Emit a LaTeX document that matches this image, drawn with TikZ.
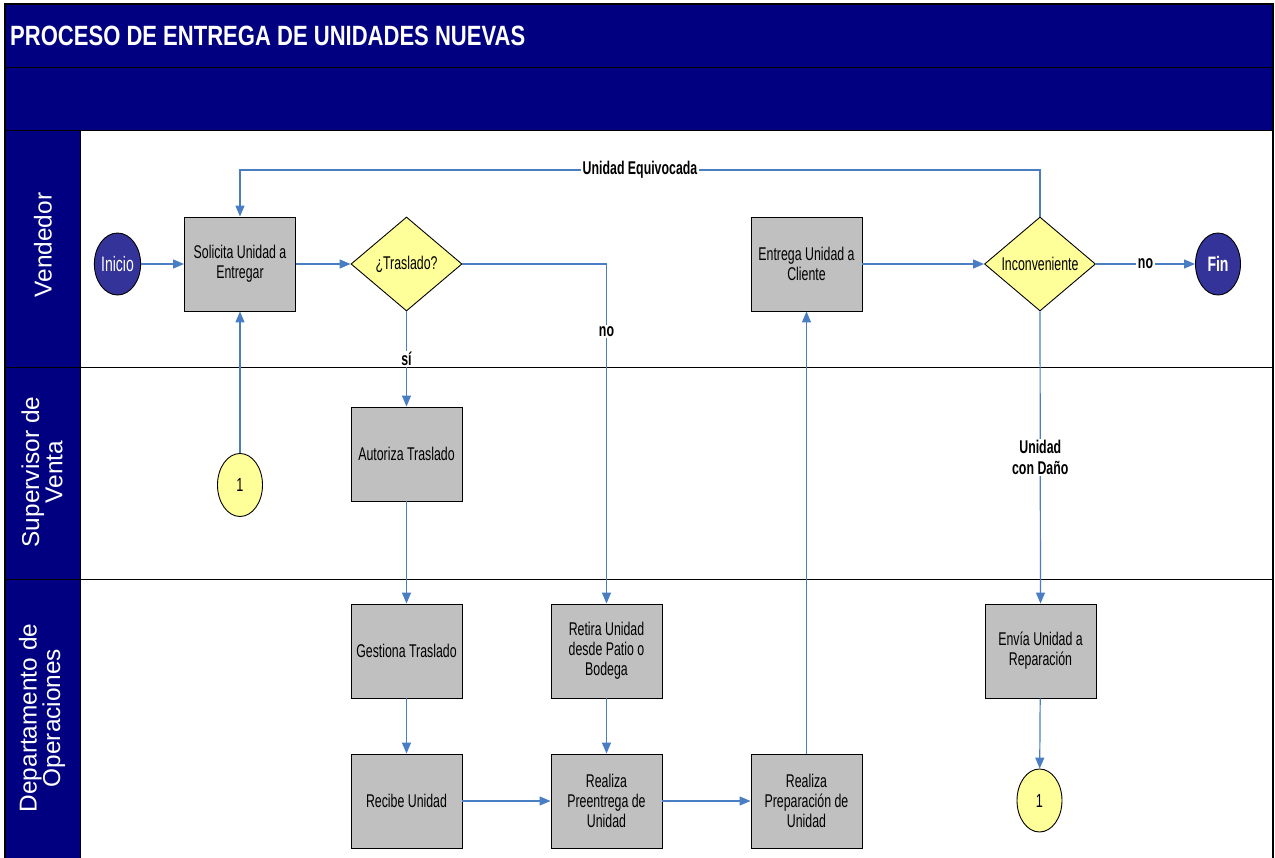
\documentclass[tikz,border=0pt]{standalone}
\usepackage{fontspec}
\setmainfont{Liberation Sans}
\newfontfamily\narrowfont{Liberation Sans}[FakeStretch=0.67]
\newfontfamily\titlefont{Liberation Sans}[FakeStretch=0.79]
\newfontfamily\lanefont{Liberation Sans}
\usetikzlibrary{shapes.geometric,arrows.meta}

\definecolor{navy}{HTML}{000080}
\definecolor{termfill}{HTML}{333399}
\definecolor{boxgray}{HTML}{C0C0C0}
\definecolor{decfill}{HTML}{FFFF99}
\definecolor{flow}{HTML}{4A7EC4}

\tikzset{
  process/.style={draw=black, fill=boxgray, line width=0.9bp, minimum width=111bp,
    minimum height=94bp, inner sep=0pt, align=center,
    font=\narrowfont\fontsize{18.5}{20}\selectfont},
  decision/.style={draw=black, fill=decfill, diamond, line width=0.9bp, aspect=1.18,
    minimum width=111bp, minimum height=94bp, inner sep=0pt,
    font=\narrowfont\fontsize{18.5}{20}\selectfont},
  terminal/.style={draw=black, fill=termfill, ellipse, line width=0.9bp,
    minimum width=45bp, minimum height=62bp, inner sep=0pt, text=white,
    font=\narrowfont\fontsize{21}{22}\selectfont},
  connector/.style={draw=black, fill=decfill, ellipse, line width=0.9bp,
    minimum width=45bp, minimum height=63bp, inner sep=0pt,
    font=\narrowfont\fontsize{19}{20}\selectfont},
  flowline/.style={draw=flow, line width=1.2bp,
    -{Triangle[length=11bp,width=9bp]}},
  flowlabel/.style={fill=white, inner sep=1.5bp, align=center, text=black,
    font=\narrowfont\bfseries\fontsize{18.5}{21}\selectfont},
  lanelabel/.style={rotate=90, text=white, align=center,
    font=\lanefont\fontsize{24.5}{23.5}\selectfont},
}

\begin{document}
\begin{tikzpicture}[x=1bp,y=-1bp]
\useasboundingbox (0,0) rectangle (1275,858);

% page frame, header bands and lane column
\fill[white] (0,0) rectangle (1275,858);
\fill[navy] (5,4) rectangle (1273,130);
\fill[navy] (5,130) rectangle (80,860);
\draw[line width=1bp] (5,67) -- (1273,67);
\draw[line width=1bp] (5,130) -- (1273,130);
\draw[line width=1bp] (80,130) -- (80,860);
\draw[line width=1bp] (5,367) -- (1273,367);
\draw[line width=1bp] (5,579) -- (1273,579);
\draw[line width=1.2bp] (5,860) -- (5,4) -- (1273,4) -- (1273,860);

\node[anchor=base west, text=white, inner sep=0pt,
      font=\titlefont\bfseries\fontsize{28}{30}\selectfont]
  (title) at (10,45) {PROCESO DE ENTREGA DE UNIDADES NUEVAS};

% swimlane names
\node[lanelabel] (laneV) at (43,245) {Vendedor};
\node[lanelabel] (laneS) at (42,472) {Supervisor de\\Venta};
\node[lanelabel] (laneD) at (42,718) {Departamento de\\Operaciones};

% Vendedor
\node[terminal] (inicio) at (117.5,264) {Inicio};
\node[process] (solicita) at (240,264) {Solicita Unidad a\\Entregar};
\node[decision] (traslado) at (406.5,264) {¿Traslado?};
\node[process] (entrega) at (806.5,264) {Entrega Unidad a\\Cliente};
\node[decision] (inconv) at (1040,264) {Inconveniente};
\node[terminal, font=\narrowfont\bfseries\fontsize{21}{22}\selectfont] (fin) at (1218,264) {Fin};

% Supervisor de Venta
\node[process] (autoriza) at (406.5,454) {Autoriza Traslado};
\node[connector] (conA) at (240,485) {1};

% Departamento de Operaciones
\node[process] (gestiona) at (406.5,651) {Gestiona Traslado};
\node[process] (retira) at (606.5,651) {Retira Unidad\\desde Patio o\\Bodega};
\node[process] (envia) at (1040.5,651) {Envía Unidad a\\Reparación};
\node[process] (recibe) at (406.5,801) {Recibe Unidad};
\node[process] (preentrega) at (606.5,801) {Realiza\\Preentrega de\\Unidad};
\node[process] (preparacion) at (806.5,801) {Realiza\\Preparación de\\Unidad};
\node[connector] (conB) at (1039.5,800.5) {1};

\coordinate (loopR) at (1040,170);
\coordinate (loopL) at (240,170);

% flows
\draw[flowline] (inicio) -- (solicita);
\draw[flowline] (solicita) -- (traslado);
\draw[flowline] (traslado.south) -- node[flowlabel, pos=0.5]{sí} (autoriza.north);
\draw[flowline] (traslado.east) -| node[flowlabel, pos=0.6]{no} (retira.north);
\draw[flowline] (autoriza) -- (gestiona);
\draw[flowline] (gestiona) -- (recibe);
\draw[flowline] (recibe) -- (preentrega);
\draw[flowline] (retira) -- (preentrega);
\draw[flowline] (preentrega) -- (preparacion);
\draw[flowline] (preparacion) -- (entrega);
\draw[flowline] (entrega) -- (inconv);
\draw[flowline] (inconv.east) -- node[flowlabel]{no} (fin.west);
\draw[flowline] (inconv.north) -- (loopR) -- node[flowlabel]{Unidad Equivocada} (loopL) -- (solicita.north);
\draw[flowline] (inconv.south) -- node[flowlabel]{Unidad\\con Daño} (envia.north);
\draw[flowline] (envia) -- (conB);
\draw[flowline] (conA) -- (solicita.south);
\end{tikzpicture}
\end{document}
